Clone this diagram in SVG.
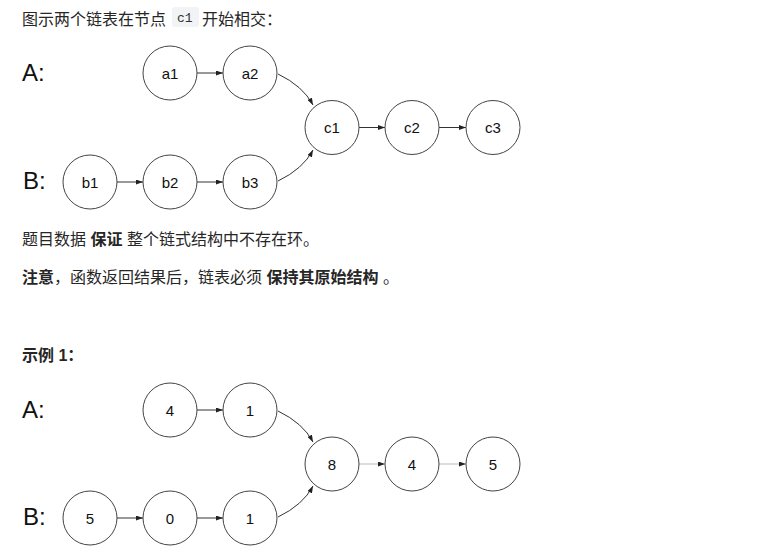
<svg xmlns="http://www.w3.org/2000/svg" width="760" height="558" viewBox="0 0 760 558">
<style>
.t{font-family:"Liberation Sans","Noto Sans CJK SC",sans-serif;font-size:16px;fill:#262626}
.b{font-weight:bold}
.lbl{font-family:"Liberation Sans",Arial,sans-serif;font-size:24px;fill:#111}
.nt{font-family:"Liberation Sans",Arial,sans-serif;font-size:15px;fill:#111;text-anchor:middle;dominant-baseline:central}
.n circle{fill:#fff;stroke:#444;stroke-width:1}
.e{fill:none;stroke:#333;stroke-width:1}
.g{fill:none;stroke:#bbb;stroke-width:1}
.code{font-family:"Liberation Mono","DejaVu Sans Mono",monospace;font-size:13px;fill:#333}
</style>
<defs>
<marker id="ah" viewBox="0 0 7 5" refX="7" refY="2.5" markerWidth="7" markerHeight="5" markerUnits="userSpaceOnUse" orient="auto">
<path d="M0,0 L7,2.5 L0,5 Z" fill="#222"/>
</marker>
</defs>
<rect width="760" height="558" fill="#fff"/>
<text class="t" x="22" y="25">图示两个链表在节点</text>
<rect x="172" y="7" width="27" height="20" rx="3" fill="#f2f3f5"/>
<text class="code" x="177" y="22">c1</text>
<text class="t" x="202" y="25">开始相交：</text>
<text class="t" y="245"><tspan x="22">题目数据 </tspan><tspan class="b">保证</tspan><tspan> 整个链式结构中不存在环。</tspan></text>
<text class="t" y="283"><tspan x="22" class="b">注意</tspan><tspan>，函数返回结果后，链表必须 </tspan><tspan class="b">保持其原始结构</tspan><tspan> 。</tspan></text>
<text class="t b" x="22" y="361">示例 1：</text>
<text class="lbl" x="22" y="81">A:</text>
<text class="lbl" x="23" y="189">B:</text>
<text class="lbl" x="22" y="418">A:</text>
<text class="lbl" x="23" y="525">B:</text>
<g id="connectors">
<line class="e" x1="197" y1="73" x2="223" y2="73" marker-end="url(#ah)"/>
<line class="e" x1="117" y1="182" x2="143" y2="182" marker-end="url(#ah)"/>
<line class="e" x1="197" y1="182" x2="223" y2="182" marker-end="url(#ah)"/>
<path class="e" d="M278,74 Q303,86 313,105" marker-end="url(#ah)"/>
<path class="e" d="M278,181 Q303,169 313,150" marker-end="url(#ah)"/>
<line class="e" x1="359" y1="127.5" x2="385" y2="127.5" marker-end="url(#ah)"/>
<line class="e" x1="439" y1="127.5" x2="466" y2="127.5" marker-end="url(#ah)"/>
<line class="e" x1="197" y1="410" x2="223" y2="410" marker-end="url(#ah)"/>
<line class="e" x1="117" y1="518" x2="143" y2="518" marker-end="url(#ah)"/>
<line class="e" x1="197" y1="518" x2="223" y2="518" marker-end="url(#ah)"/>
<path class="e" d="M278,411 Q303,423 313,442" marker-end="url(#ah)"/>
<path class="e" d="M278,517 Q303,505 313,486" marker-end="url(#ah)"/>
<line class="g" x1="359" y1="464" x2="385" y2="464" marker-end="url(#ah)"/>
<line class="g" x1="439" y1="464" x2="466" y2="464" marker-end="url(#ah)"/>
</g>
<g id="a1" class="n"><circle cx="170" cy="73" r="27"/><text class="nt" x="170" y="73">a1</text></g>
<g id="a2" class="n"><circle cx="250" cy="73" r="27"/><text class="nt" x="250" y="73">a2</text></g>
<g id="b1" class="n"><circle cx="90" cy="182" r="27"/><text class="nt" x="90" y="182">b1</text></g>
<g id="b2" class="n"><circle cx="170" cy="182" r="27"/><text class="nt" x="170" y="182">b2</text></g>
<g id="b3" class="n"><circle cx="250" cy="182" r="27"/><text class="nt" x="250" y="182">b3</text></g>
<g id="c1" class="n"><circle cx="332" cy="127.5" r="27"/><text class="nt" x="332" y="127.5">c1</text></g>
<g id="c2" class="n"><circle cx="412" cy="127.5" r="27"/><text class="nt" x="412" y="127.5">c2</text></g>
<g id="c3" class="n"><circle cx="493" cy="127.5" r="27"/><text class="nt" x="493" y="127.5">c3</text></g>
<g id="ex_a4" class="n"><circle cx="170" cy="410" r="27"/><text class="nt" x="170" y="410">4</text></g>
<g id="ex_a1" class="n"><circle cx="250" cy="410" r="27"/><text class="nt" x="250" y="410">1</text></g>
<g id="ex_b5" class="n"><circle cx="90" cy="518" r="27"/><text class="nt" x="90" y="518">5</text></g>
<g id="ex_b0" class="n"><circle cx="170" cy="518" r="27"/><text class="nt" x="170" y="518">0</text></g>
<g id="ex_b1" class="n"><circle cx="250" cy="518" r="27"/><text class="nt" x="250" y="518">1</text></g>
<g id="ex_c8" class="n"><circle cx="332" cy="464" r="27"/><text class="nt" x="332" y="464">8</text></g>
<g id="ex_c4" class="n"><circle cx="412" cy="464" r="27"/><text class="nt" x="412" y="464">4</text></g>
<g id="ex_c5" class="n"><circle cx="493" cy="464" r="27"/><text class="nt" x="493" y="464">5</text></g>
</svg>
